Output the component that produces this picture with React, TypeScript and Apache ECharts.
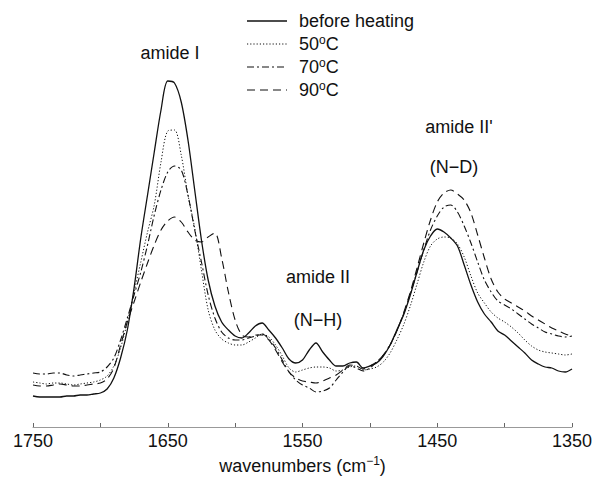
import React, { useEffect, useRef } from "react";
import * as echarts from "echarts";

// wavenumbers (cm^-1), sampled every 5 cm^-1
const wavenumbers = [
  1750, 1745, 1740, 1735, 1730, 1725, 1720, 1715, 1710, 1705,
  1700, 1695, 1690, 1685, 1680, 1675, 1670, 1665, 1660, 1655,
  1650, 1645, 1640, 1635, 1630, 1625, 1620, 1615, 1610, 1605,
  1600, 1595, 1590, 1585, 1580, 1575, 1570, 1565, 1560, 1555,
  1550, 1545, 1540, 1535, 1530, 1525, 1520, 1515, 1510, 1505,
  1500, 1495, 1490, 1485, 1480, 1475, 1470, 1465, 1460, 1455,
  1450, 1445, 1440, 1435, 1430, 1425, 1420, 1415, 1410, 1405,
  1400, 1395, 1390, 1385, 1380, 1375, 1370, 1365, 1360, 1355,
  1350,
];

// absorbance (arbitrary units)
const beforeHeating = [
  31, 30, 30, 30, 30, 31, 31, 32, 32, 33,
  34, 38, 49, 69, 97, 139, 189, 232, 275, 317,
  346, 344, 325, 287, 237, 187, 147, 121, 105, 97,
  91, 89, 94, 101, 104, 97, 89, 79, 68, 64,
  67, 77, 84, 75, 67, 61, 61, 64, 65, 59,
  61, 64, 71, 82, 97, 112, 132, 155, 177, 191,
  198, 195, 189, 181, 162, 142, 125, 113, 105, 96,
  92, 86, 80, 74, 67, 63, 60, 59, 56, 55,
  58,
];

const heated50 = [
  45, 44, 43, 44, 44, 43, 42, 43, 44, 45,
  47, 51, 61, 79, 105, 135, 165, 195, 222, 265,
  296, 297, 272, 232, 199, 157, 117, 97, 88, 84,
  82, 82, 85, 89, 93, 90, 82, 71, 59, 55,
  57, 59, 60, 60, 59, 56, 57, 60, 61, 57,
  58, 60, 65, 74, 87, 102, 121, 143, 165, 181,
  188, 190, 189, 183, 170, 151, 134, 124, 115, 109,
  105, 100, 94, 87, 81, 77, 75, 74, 73, 72,
  73,
];

const heated70 = [
  54, 53, 53, 54, 54, 52, 51, 52, 53, 54,
  55, 60, 69, 87, 109, 132, 155, 182, 212, 237,
  255, 261, 257, 232, 197, 165, 132, 109, 95, 89,
  87, 87, 89, 91, 93, 88, 79, 67, 55, 47,
  42, 39, 35, 36, 39, 47, 55, 61, 59, 56,
  59, 65, 72, 82, 96, 113, 133, 155, 177, 197,
  211, 220, 222, 215, 201, 184, 165, 147, 135, 126,
  122, 118, 113, 108, 103, 99, 95, 93, 91, 90,
  91,
];

const heated90 = [
  42, 41, 41, 42, 43, 42, 41, 41, 42, 43,
  44, 48, 59, 82, 105, 125, 145, 164, 182, 197,
  206, 210, 205, 195, 187, 185, 190, 194, 169, 135,
  107, 92, 90, 92, 92, 87, 77, 65, 55, 49,
  46, 45, 44, 46, 49, 52, 57, 62, 61, 58,
  61, 65, 72, 82, 96, 114, 135, 159, 184, 207,
  225, 234, 237, 233, 227, 214, 192, 169, 148, 135,
  128, 124, 120, 116, 111, 107, 103, 99, 96, 93,
  91,
];

const xTickLabels = [1750, 1650, 1550, 1450, 1350];

const legendNames = ["before heating", "50{s|o}C", "70{s|o}C", "90{s|o}C"];
const seriesNames = ["before heating", "50°C", "70°C", "90°C"];

export default function App() {
  const ref = useRef<HTMLDivElement>(null);

  useEffect(() => {
    const chart = echarts.init(ref.current!, null, { renderer: "svg" });
    const font = "'Liberation Sans', Arial, Helvetica, sans-serif";
    const ink = "#111";
    const pairs = (vals: number[]) => wavenumbers.map((w, i) => [w, vals[i]]);

    const dashes: any[] = ["solid", [1.2, 2], [7, 3, 2, 3], [8, 5]];
    const widths = [1.3, 1, 1.1, 1.1];
    const allValues = [beforeHeating, heated50, heated70, heated90];

    const rich = {
      s: {
        fontSize: 12,
        fontFamily: font,
        color: ink,
        fill: ink,
        font: `12px ${font}`,
        verticalAlign: "top",
        lineHeight: 8,
      } as any,
    };

    const legendRows = [21, 44, 67, 90];
    const legendGraphics: any[] = [];
    legendRows.forEach((y, i) => {
      legendGraphics.push({
        type: "line",
        shape: { x1: 247, y1: y, x2: 287, y2: y },
        style: {
          stroke: ink,
          lineWidth: widths[i],
          lineDash: dashes[i] === "solid" ? null : dashes[i],
        },
      });
      legendGraphics.push({
        type: "text",
        x: 299,
        y: y,
        style: {
          text: legendNames[i],
          font: `18px ${font}`,
          fill: ink,
          lineHeight: 21,
          textVerticalAlign: "middle",
          rich,
        },
      });
    });

    const annot = (text: string, x: number, y: number) => ({
      type: "text",
      x,
      y,
      style: {
        text,
        font: `18px ${font}`,
        fill: ink,
        textAlign: "center",
        textVerticalAlign: "middle",
      },
    });

    chart.setOption({
      animation: false,
      backgroundColor: "#fff",
      grid: { left: 33, right: 22, top: 50, bottom: 50, outerBoundsMode: "none", containLabel: false },
      xAxis: {
        type: "value",
        min: 1350,
        max: 1750,
        interval: 50,
        inverse: true,
        name: "wavenumbers (cm{s|−1})",
        nameLocation: "middle",
        nameGap: 28,
        nameTextStyle: { fontSize: 18, fontFamily: font, color: ink, lineHeight: 21, rich },
        axisLine: { lineStyle: { color: "#999", width: 1 } },
        axisTick: { inside: true, length: 4, lineStyle: { color: "#666" } },
        splitLine: { show: false },
        axisLabel: {
          fontSize: 18,
          fontFamily: font,
          color: ink,
          margin: 5,
          formatter: (v: number) => (xTickLabels.includes(v) ? String(v) : ""),
        },
      },
      yAxis: {
        type: "value",
        min: 0,
        max: 377,
        show: false,
        splitLine: { show: false },
      },
      series: allValues.map((vals, i) => ({
        name: seriesNames[i],
        type: "line",
        data: pairs(vals),
        symbol: "none",
        smooth: 0.3,
        lineStyle: { color: ink, width: widths[i], type: dashes[i] },
      })),
      graphic: [
        ...legendGraphics,
        annot("amide I", 170, 53),
        annot("amide II", 318, 277),
        annot("(N−H)", 318, 320),
        annot("amide II'", 459, 127),
        annot("(N−D)", 454, 167),
      ],
    });

    return () => chart.dispose();
  }, []);

  return (
    <div
      ref={ref}
      style={{ position: "fixed", left: 0, top: 0, width: 594, height: 477 }}
    />
  );
}
